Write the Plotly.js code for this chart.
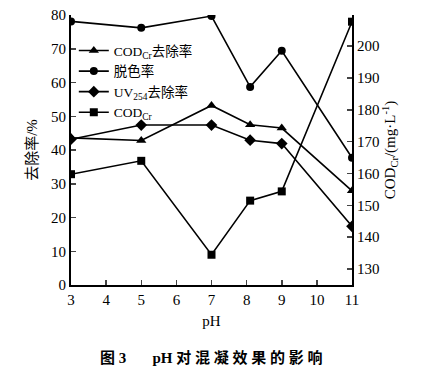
<!DOCTYPE html>
<html><head><meta charset="utf-8">
<script src="https://cdn.plot.ly/plotly-3.0.1.min.js"></script>
<style>body{margin:0;background:#fff}#chart{width:436px;height:376px}</style>
</head><body><div id="chart"></div>
<script>
const pH = [3, 5, 7, 8.1, 9, 11];
const codRemoval = [43.6, 42.8, 53.2, 47.5, 46.5, 27.9];
const decolor = [78.1, 76.2, 79.7, 58.7, 69.4, 37.7];
const uvRemoval = [43.2, 47.4, 47.4, 42.9, 41.9, 17.4];
const codCr = [159.8, 164.0, 134.5, 151.5, 154.4, 207.7];
const xTicks = [3, 4, 5, 6, 7, 8, 9, 10, 11];
const yLeftTicks = [0, 10, 20, 30, 40, 50, 60, 70, 80];
const yRightTicks = [130, 140, 150, 160, 170, 180, 190, 200, 210];

const serif = "Liberation Serif, DejaVu Serif, Noto Sans CJK SC";
const line = {color: '#000', width: 1.6};
const mk = (s, sz) => ({symbol: s, size: sz, color: '#000'});

const traces = [
  {x: pH, y: codRemoval, name: 'COD<sub>Cr</sub>去除率', mode: 'lines+markers', line, marker: mk('triangle-up', 9)},
  {x: pH, y: decolor, name: '脱色率', mode: 'lines+markers', line, marker: mk('circle', 8)},
  {x: pH, y: uvRemoval, name: 'UV<sub>254</sub>去除率', mode: 'lines+markers', line, marker: mk('diamond', 9)},
  {x: pH, y: codCr, name: 'COD<sub>Cr</sub>', mode: 'lines+markers', line, marker: mk('square', 8), yaxis: 'y2'}
];

const layout = {
  width: 436, height: 376,
  margin: {l: 71, r: 84, t: 15, b: 91},
  paper_bgcolor: '#fff', plot_bgcolor: '#fff',
  font: {family: serif, size: 15, color: '#000'},
  showlegend: true,
  legend: {x: 0.01, y: 0.925, xanchor: 'left', yanchor: 'top', bgcolor: 'rgba(0,0,0,0)',
           font: {family: serif, size: 13.5}, tracegroupgap: 0, itemwidth: 30},
  xaxis: {range: [3, 11], tickvals: xTicks, ticks: 'inside', ticklen: 5, tickwidth: 1.5,
          showline: true, linewidth: 2, linecolor: '#000', showgrid: false, zeroline: false,
          title: {text: 'pH', font: {size: 15}, standoff: 8}, tickfont: {size: 15}},
  yaxis: {range: [0, 80], tickvals: yLeftTicks, ticks: 'inside', ticklen: 5, tickwidth: 1.5,
          showline: true, linewidth: 2, linecolor: '#000', showgrid: false, zeroline: false,
          title: {text: '去除率/%', font: {size: 15}, standoff: 10}, tickfont: {size: 15}},
  yaxis2: {range: [125, 209.8], tickvals: yRightTicks, overlaying: 'y', side: 'right',
           ticks: 'inside', ticklen: 5, tickwidth: 1.5,
           showline: true, linewidth: 2, linecolor: '#000', showgrid: false, zeroline: false,
           title: {text: 'COD<sub>Cr</sub>/(mg·L<sup>-1</sup>)', font: {size: 15}, standoff: 6}, tickfont: {size: 15}},
  annotations: [
    {text: '<b>图 3 　  pH 对 混 凝 效 果 的 影 响</b>', xref: 'paper', yref: 'paper', x: 0.5, y: -0.27,
     xanchor: 'center', yanchor: 'middle', showarrow: false, font: {family: serif, size: 15}}
  ]
};
Plotly.newPlot('chart', traces, layout, {staticPlot: true});
</script></body></html>
